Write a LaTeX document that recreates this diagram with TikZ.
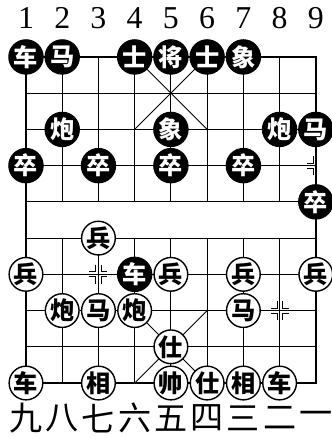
\documentclass[tikz,border=0pt]{standalone}
\usepackage{fontspec}
\setmainfont{Liberation Serif}
\newfontfamily\cjk{Noto Sans CJK SC}
\usepackage{tikz}
\usetikzlibrary{positioning}

\begin{document}
\begin{tikzpicture}[
  frame/.style={line width=1.5pt},
  gridline/.style={line width=0.7pt},
  blackpiece/.style={circle, fill=black, draw=black, line width=0.8pt, minimum size=9.5mm, inner sep=0pt, text=white, font=\cjk\bfseries\fontsize{19}{19}\selectfont},
  redpiece/.style={circle, fill=white, draw=black, line width=1.1pt, minimum size=9.3mm, inner sep=0pt, font=\cjk\bfseries\fontsize{19}{19}\selectfont},
  filenum/.style={font=\fontsize{25}{25}\selectfont, inner sep=0pt},
  filecn/.style={font=\cjk\fontsize{26}{26}\selectfont, inner sep=0pt},
  pointmark/.style={line width=0.7pt}
]
  \useasboundingbox (-0.717,-1.517) rectangle (8.441,10.572);

  % board
  \foreach \y in {0,...,9}
    \draw[gridline] (0,\y) -- (8,\y);
  \foreach \x in {1,...,7} {
    \draw[gridline] (\x,9) -- (\x,5);
    \draw[gridline] (\x,4) -- (\x,0);
  }
  \draw[frame] (0,0) rectangle (8,9);
  \draw[gridline] (3,9) -- (5,7) (5,9) -- (3,7);
  \draw[gridline] (3,0) -- (5,2) (5,0) -- (3,2);

  % position marks
  \foreach \px/\py in {2/3, 7/2} {
    \foreach \sx in {-1,1}
      \foreach \sy in {-1,1}
        \draw[pointmark] (\px+\sx*0.07,\py+\sy*0.27) -- (\px+\sx*0.07,\py+\sy*0.07) -- (\px+\sx*0.25,\py+\sy*0.07);
  }
  \foreach \sy in {-1,1}
    \draw[pointmark] (8-0.07,6+\sy*0.27) -- (8-0.07,6+\sy*0.07) -- (8-0.25,6+\sy*0.07);

  % file numbers
  \foreach \n in {1,...,9}
    \node[filenum] (top\n) at (\n-1,10.08) {\n};
  \foreach \c [count=\i from 0] in {九,八,七,六,五,四,三,二,一}
    \node[filecn] (bot\i) at (\i,-0.97) {\c};

  % black side
  \node[blackpiece] (bche1) at (0,9) {车};
  \node[blackpiece] (bma1) at (1,9) {马};
  \node[blackpiece] (bshi1) at (3,9) {士};
  \node[blackpiece] (bjiang) at (4,9) {将};
  \node[blackpiece] (bshi2) at (5,9) {士};
  \node[blackpiece] (bxiang1) at (6,9) {象};
  \node[blackpiece] (bpao1) at (1,7) {炮};
  \node[blackpiece] (bxiang2) at (4,7) {象};
  \node[blackpiece] (bpao2) at (7,7) {炮};
  \node[blackpiece] (bma2) at (8,7) {马};
  \node[blackpiece] (bzu1) at (0,6) {卒};
  \node[blackpiece] (bzu2) at (2,6) {卒};
  \node[blackpiece] (bzu3) at (4,6) {卒};
  \node[blackpiece] (bzu4) at (6,6) {卒};
  \node[blackpiece] (bzu5) at (8,5) {卒};
  \node[blackpiece] (bche2) at (3,3) {车};

  % red side
  \node[redpiece] (rbing1) at (2,4) {兵};
  \node[redpiece] (rbing2) at (0,3) {兵};
  \node[redpiece] (rbing3) at (4,3) {兵};
  \node[redpiece] (rbing4) at (6,3) {兵};
  \node[redpiece] (rbing5) at (8,3) {兵};
  \node[redpiece] (rpao1) at (1,2) {炮};
  \node[redpiece] (rma1) at (2,2) {马};
  \node[redpiece] (rpao2) at (3,2) {炮};
  \node[redpiece] (rma2) at (6,2) {马};
  \node[redpiece] (rshi1) at (4,1) {仕};
  \node[redpiece] (rche1) at (0,0) {车};
  \node[redpiece] (rxiang1) at (2,0) {相};
  \node[redpiece] (rshuai) at (4,0) {帅};
  \node[redpiece] (rshi2) at (5,0) {仕};
  \node[redpiece] (rxiang2) at (6,0) {相};
  \node[redpiece] (rche2) at (7,0) {车};
\end{tikzpicture}
\end{document}
